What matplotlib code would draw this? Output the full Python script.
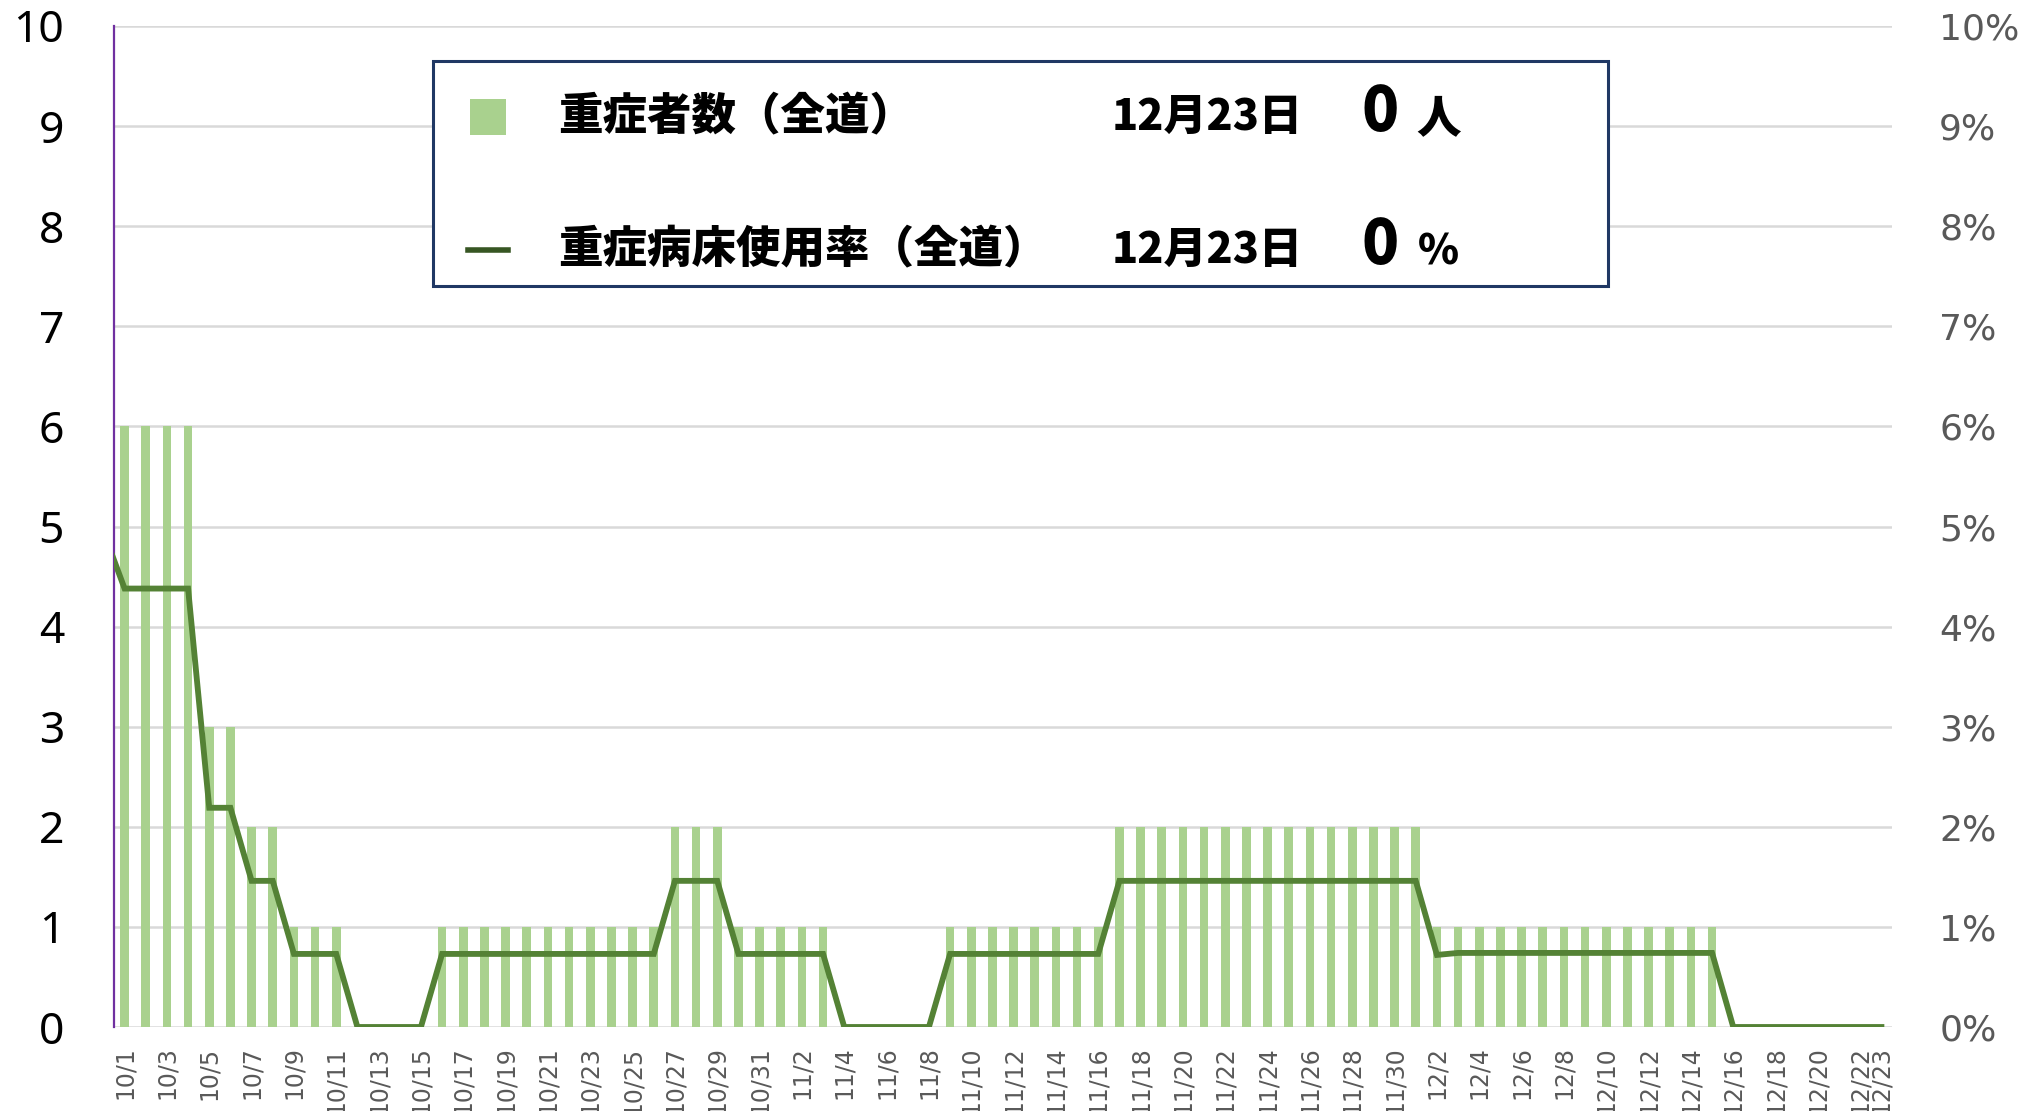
import matplotlib
matplotlib.use('Agg')
import matplotlib.pyplot as plt
from matplotlib.patches import Rectangle
from matplotlib.lines import Line2D

# dates 10/1 - 12/23
dates = ['10/1', '10/2', '10/3', '10/4', '10/5', '10/6', '10/7', '10/8', '10/9', '10/10',
         '10/11', '10/12', '10/13', '10/14', '10/15', '10/16', '10/17', '10/18', '10/19', '10/20',
         '10/21', '10/22', '10/23', '10/24', '10/25', '10/26', '10/27', '10/28', '10/29', '10/30',
         '10/31', '11/1', '11/2', '11/3', '11/4', '11/5', '11/6', '11/7', '11/8', '11/9',
         '11/10', '11/11', '11/12', '11/13', '11/14', '11/15', '11/16', '11/17', '11/18', '11/19',
         '11/20', '11/21', '11/22', '11/23', '11/24', '11/25', '11/26', '11/27', '11/28', '11/29',
         '11/30', '12/1', '12/2', '12/3', '12/4', '12/5', '12/6', '12/7', '12/8', '12/9',
         '12/10', '12/11', '12/12', '12/13', '12/14', '12/15', '12/16', '12/17', '12/18', '12/19',
         '12/20', '12/21', '12/22', '12/23']

# 重症者数（全道）
severe = [6, 6, 6, 6, 3, 3, 2, 2, 1, 1,
          1, 0, 0, 0, 0, 1, 1, 1, 1, 1,
          1, 1, 1, 1, 1, 1, 2, 2, 2, 1,
          1, 1, 1, 1, 0, 0, 0, 0, 0, 1,
          1, 1, 1, 1, 1, 1, 1, 2, 2, 2,
          2, 2, 2, 2, 2, 2, 2, 2, 2, 2,
          2, 2, 1, 1, 1, 1, 1, 1, 1, 1,
          1, 1, 1, 1, 1, 1, 0, 0, 0, 0,
          0, 0, 0, 0]

# 重症病床使用率（全道） in %, bed_rate_prev is 9/30 (just outside the plotted range)
bed_rate_prev = 4.95
bed_rate = [4.38, 4.38, 4.38, 4.38, 2.19, 2.19, 1.46, 1.46, 0.73, 0.73,
            0.73, 0, 0, 0, 0, 0.73, 0.73, 0.73, 0.73, 0.73,
            0.73, 0.73, 0.73, 0.73, 0.73, 0.73, 1.46, 1.46, 1.46, 0.73,
            0.73, 0.73, 0.73, 0.73, 0, 0, 0, 0, 0, 0.73,
            0.73, 0.73, 0.73, 0.73, 0.73, 0.73, 0.73, 1.46, 1.46, 1.46,
            1.46, 1.46, 1.46, 1.46, 1.46, 1.46, 1.46, 1.46, 1.46, 1.46,
            1.46, 1.46, 0.72, 0.74, 0.74, 0.74, 0.74, 0.74, 0.74, 0.74,
            0.74, 0.74, 0.74, 0.74, 0.74, 0.74, 0, 0, 0, 0,
            0, 0, 0, 0]

latest_date = '12月23日'
latest_severe = '0'
latest_rate = '0'

W, H = 2039, 1111
fig = plt.figure(figsize=(W / 100, H / 100), dpi=100)
ax = fig.add_axes([114 / W, 1 - 1027 / H, (1892 - 114) / W, (1027 - 26) / H])

x = list(range(len(dates)))
ax.bar(x, severe, width=0.41, color='#A9D18E', zorder=2)
ax.set_ylim(0, 10)
ax.set_xlim(-0.5, len(dates) - 0.5)
ax.set_yticks(range(0, 11))
ax.tick_params(axis='y', length=0, labelsize=32, labelcolor='black', pad=36)
for lab in ax.get_yticklabels():
    lab.set_family(['Noto Sans', 'DejaVu Sans'])
ax.grid(axis='y', color='#D9D9D9', lw=1.8, zorder=0)
ax.set_axisbelow(True)

tick_pos = list(range(0, len(dates), 2)) + [len(dates) - 1]
ax.set_xticks(tick_pos)
ax.set_xticklabels([dates[i] for i in tick_pos], rotation=90, fontsize=17,
                   color='#595959', family=['Liberation Sans Narrow', 'DejaVu Sans'])
ax.tick_params(axis='x', length=0, pad=14)

for s in ['top', 'right', 'bottom']:
    ax.spines[s].set_visible(False)
ax.spines['left'].set_color('#7030A0')
ax.spines['left'].set_linewidth(1.6)

ax2 = ax.twinx()
ax2.plot([-1] + x, [bed_rate_prev] + bed_rate, color='#548235', lw=4.2,
         solid_joinstyle='miter', zorder=3)
ax2.set_ylim(0, 10)
ax2.set_xlim(-0.5, len(dates) - 0.5)
ax2.set_yticks(range(0, 11))
ax2.set_yticklabels([f'{v}%' for v in range(0, 11)])
ax2.tick_params(axis='y', length=0, labelsize=26, labelcolor='#595959', pad=34)
for lab in ax2.get_yticklabels():
    lab.set_family(['DejaVu Sans'])
for s in ax2.spines.values():
    s.set_visible(False)

# legend box
fx = lambda px: px / W
fy = lambda py: 1 - py / H
fig.patches.append(Rectangle((fx(433), fy(286)), fx(1608) - fx(433), fy(61) - fy(286),
                             transform=fig.transFigure, facecolor='white',
                             edgecolor='#203864', lw=2.2, zorder=5))
fig.patches.append(Rectangle((fx(470), fy(135)), fx(36), fy(99) - fy(135),
                             transform=fig.transFigure, facecolor='#A9D18E',
                             edgecolor='none', zorder=6))
fig.lines.append(Line2D([fx(468), fx(508)], [fy(250), fy(250)], transform=fig.transFigure,
                        color='#375623', lw=4, zorder=6))

jp = ['Noto Sans CJK JP']
tkw = dict(family=jp, fontweight='black', color='black', va='center', zorder=7)
fig.text(fx(558), fy(117), '重症者数（全道）', fontsize=32, **tkw)
fig.text(fx(558), fy(250), '重症病床使用率（全道）', fontsize=32, **tkw)
fig.text(fx(1112), fy(117), latest_date, fontsize=31, **tkw)
fig.text(fx(1112), fy(250), latest_date, fontsize=31, **tkw)
fig.text(fx(1362), fy(113), latest_severe, fontsize=44, **tkw)
fig.text(fx(1362), fy(246), latest_rate, fontsize=44, **tkw)
fig.text(fx(1416), fy(119), '人', fontsize=32, **tkw)
fig.text(fx(1418), fy(252), '%', fontsize=30, **tkw)

fig.savefig('out.png', dpi=100)
